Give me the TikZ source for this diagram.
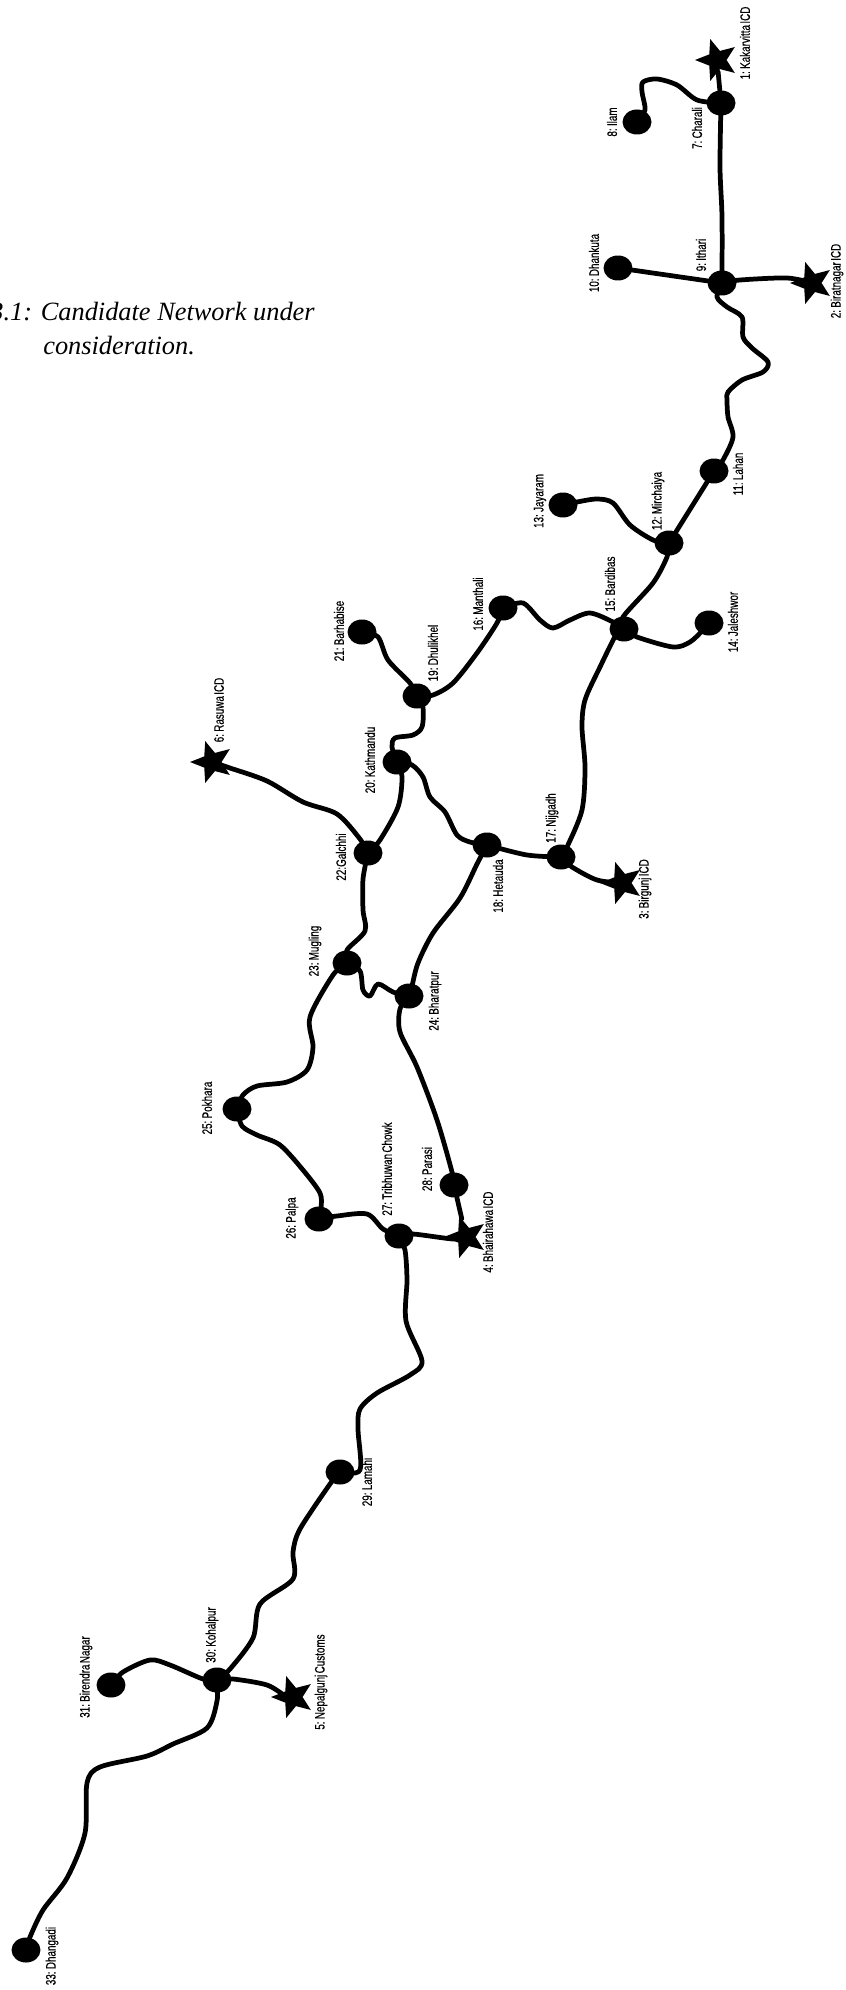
\documentclass[tikz,border=0pt]{standalone}
\usepackage{fontspec}
\usetikzlibrary{shapes.geometric}
\setmainfont{Liberation Serif}
\newfontfamily\stopfont[FakeStretch=0.72,FakeBold=0.4,WordSpace=0.5]{Liberation Sans}

\begin{document}
\begin{tikzpicture}[
    x=0.02cm, y=-0.02cm,
    stopnode/.style={
        ellipse, fill=black, inner sep=0pt, minimum width=0.58cm, minimum height=0.5cm
    },
    icdnode/.style={
        star, star points=5, star point ratio=2.3, shape border rotate=90,
        fill=black, inner sep=0pt, minimum size=0.88cm
    },
    stoplabel/.style={
        rotate=90, font=\stopfont\fontsize{7.8}{9}\selectfont, inner sep=0pt
    },
    captext/.style={
        font=\itshape\fontsize{15}{18}\selectfont, inner sep=0pt
    },
    road/.style={line width=2.7pt, line cap=round, line join=round}
]
\useasboundingbox (0,0) rectangle (845,1990);

% ===== Caption =====
\node[captext, anchor=base east] (capone) at (315,320) {3.1: Candidate Network under};
\node[captext, anchor=base west] (captwo) at (43,355) {consideration.};

% ===== ICD stars =====
\node[icdnode] (kakarvitta) at (717,60) {};
\node[icdnode] (biratnagar) at (812,283) {};
\node[icdnode] (birgunj) at (622,883) {};
\node[icdnode] (bhairahawa) at (466,1237) {};
\node[icdnode] (nepalgunj) at (293,1697) {};
\node[icdnode] (rasuwa) at (212,762) {};

% ===== Stops =====
\node[stopnode] (charali) at (721,103) {};
\node[stopnode] (ilam) at (637,122) {};
\node[stopnode] (ithari) at (722,283) {};
\node[stopnode] (dhankuta) at (618,268) {};
\node[stopnode] (lahan) at (714,471) {};
\node[stopnode] (mirchaiya) at (669,543) {};
\node[stopnode] (jayaram) at (563,505) {};
\node[stopnode] (jaleshwor) at (709,623) {};
\node[stopnode] (bardibas) at (624,629) {};
\node[stopnode] (manthali) at (503,608) {};
\node[stopnode] (nijgadh) at (561,857) {};
\node[stopnode] (hetauda) at (487,845) {};
\node[stopnode] (dhulikhel) at (417,696) {};
\node[stopnode] (kathmandu) at (397,762) {};
\node[stopnode] (barhabise) at (362,632) {};
\node[stopnode] (galchhi) at (368,853) {};
\node[stopnode] (mugling) at (347,963) {};
\node[stopnode] (bharatpur) at (409,996) {};
\node[stopnode] (pokhara) at (237,1109) {};
\node[stopnode] (palpa) at (319,1219) {};
\node[stopnode] (tribhuwan) at (399,1236) {};
\node[stopnode] (parasi) at (454,1185) {};
\node[stopnode] (lamahi) at (340,1472) {};
\node[stopnode] (kohalpur) at (217,1680) {};
\node[stopnode] (birendra) at (111,1685) {};
\node[stopnode] (dhangadi) at (26,1950) {};

% ===== Labels =====
\node[stoplabel] (l1) at (745,43) {1: Kakarvitta ICD};
\node[stoplabel] (l2) at (837,281) {2: Biratnagar ICD};
\node[stoplabel] (l3) at (645,889) {3: Birgunj ICD};
\node[stoplabel] (l4) at (488,1232) {4: Bhairahawa ICD};
\node[stoplabel] (l5) at (321,1682) {5: Nepalgunj Customs};
\node[stoplabel] (l6) at (219,710) {6: Rasuwa ICD};
\node[stoplabel] (l7) at (697,128) {7: Charali};
\node[stoplabel] (l8) at (612,122) {8: Ilam};
\node[stoplabel] (l9) at (701,255) {9: Ithari};
\node[stoplabel] (l10) at (594,263) {10: Dhankuta};
\node[stoplabel] (l11) at (738,474) {11: Lahan};
\node[stoplabel] (l12) at (658,501) {12: Mirchaiya};
\node[stoplabel] (l13) at (540,501) {13: Jayaram};
\node[stoplabel] (l14) at (733,622) {14: Jaleshwor};
\node[stoplabel] (l15) at (610,584) {15: Bardibas};
\node[stoplabel] (l16) at (478,604) {16: Manthali};
\node[stoplabel] (l17) at (552,818) {17: Nijgadh};
\node[stoplabel] (l18) at (498,886) {18: Hetauda};
\node[stoplabel] (l19) at (433,653) {19: Dhulikhel};
\node[stoplabel] (l20) at (370,760) {20: Kathmandu};
\node[stoplabel] (l21) at (339,631) {21: Barhabise};
\node[stoplabel] (l22) at (341,857) {22:Galchhi};
\node[stoplabel] (l23) at (315,951) {23: Mugling};
\node[stoplabel] (l24) at (435,1001) {24: Bharatpur};
\node[stoplabel] (l25) at (207,1108) {25: Pokhara};
\node[stoplabel] (l26) at (292,1218) {26: Palpa};
\node[stoplabel] (l27) at (387,1169) {27: Tribhuwan Chowk};
\node[stoplabel] (l28) at (427,1169) {28: Parasi};
\node[stoplabel] (l29) at (367,1482) {29: Lamahi};
\node[stoplabel] (l30) at (212,1635) {30: Kohalpur};
\node[stoplabel] (l31) at (86,1677) {31: Birendra Nagar};
\node[stoplabel] (l33) at (52,1956) {33: Dhangadi};

% Straight roads
\foreach \i/\j in {charali/kakarvitta, ithari/dhankuta, lahan/mirchaiya, parasi/bhairahawa} {
    \draw[road] (\i) -- (\j);
}

% Winding roads
\draw[road] plot[smooth] coordinates {(ilam) (645,110) (642,92) (643,82) (657,79) (677,85) (697,100) (charali)};
\draw[road] plot[smooth] coordinates {(charali) (720,167) (722,217) (ithari)};
\draw[road] plot[smooth] coordinates {(ithari) (740,280) (787,278) (biratnagar)};
\draw[road] plot[smooth] coordinates {(ithari) (717,297) (727,307) (742,317) (743,337) (752,348) (768,362) (763,372) (742,380) (728,392) (727,400) (728,417) (733,437) (723,460) (lahan)};
\draw[road] plot[smooth] coordinates {(mirchaiya) (653,540) (630,525) (613,503) (597,499) (577,502) (jayaram)};
\draw[road] plot[smooth] coordinates {(mirchaiya) (667,557) (653,583) (623,617) (bardibas)};
\draw[road] plot[smooth] coordinates {(bardibas) (637,637) (673,647) (690,642) (703,630) (jaleshwor)};
\draw[road] plot[smooth] coordinates {(bardibas) (613,622) (590,613) (570,620) (553,628) (540,620) (523,603) (manthali)};
\draw[road] plot[smooth] coordinates {(bardibas) (617,633) (600,667) (585,700) (582,727) (585,767) (582,810) (567,847) (nijgadh)};
\draw[road] plot[smooth] coordinates {(nijgadh) (572,867) (597,880) (birgunj)};
\draw[road] plot[smooth] coordinates {(nijgadh) (527,855) (hetauda)};
\draw[road] plot[smooth] coordinates {(manthali) (497,623) (477,653) (453,683) (433,695) (dhulikhel)};
\draw[road] plot[smooth] coordinates {(dhulikhel) (410,683) (388,660) (378,637) (barhabise)};
\draw[road] plot[smooth] coordinates {(dhulikhel) (423,708) (422,727) (413,735) (395,738) (392,747) (kathmandu)};
\draw[road] plot[smooth] coordinates {(kathmandu) (402,777) (398,807) (380,840) (galchhi)};
\draw[road] plot[smooth] coordinates {(kathmandu) (412,765) (423,777) (430,797) (445,812) (457,835) (470,842) (hetauda)};
\draw[road] plot[smooth] coordinates {(galchhi) (360,839) (337,814) (303,802) (267,781) (230,768) (rasuwa)};
\draw[road] plot[smooth] coordinates {(galchhi) (363,879) (363,910) (365,931) (347,950) (mugling)};
\draw[road] plot[smooth] coordinates {(hetauda) (477,864) (460,898) (433,933) (418,963) (412,986) (bharatpur)};
\draw[road] plot[smooth] coordinates {(mugling) (360,971) (363,990) (370,996) (378,984) (393,992) (bharatpur)};
\draw[road] plot[smooth] coordinates {(mugling) (333,975) (310,1017) (313,1047) (307,1070) (287,1082) (257,1086) (243,1095) (pokhara)};
\draw[road] plot[smooth] coordinates {(pokhara) (242,1126) (257,1135) (280,1145) (303,1170) (320,1193) (321,1208) (palpa)};
\draw[road] plot[smooth] coordinates {(palpa) (337,1216) (367,1214) (383,1229) (tribhuwan)};
\draw[road] plot[smooth] coordinates {(tribhuwan) (413,1234) (453,1239) (bhairahawa)};
\draw[road] plot[smooth] coordinates {(bharatpur) (400,1009) (400,1032) (417,1067) (437,1120) (452,1172) (parasi)};
\draw[road] plot[smooth] coordinates {(tribhuwan) (405,1250) (407,1280) (406,1321) (422,1361) (410,1375) (377,1393) (360,1409) (358,1429) (360,1470) (lamahi)};
\draw[road] plot[smooth] coordinates {(lamahi) (330,1484) (300,1529) (293,1552) (293,1579) (260,1604) (253,1638) (230,1669) (kohalpur)};
\draw[road] plot[smooth] coordinates {(kohalpur) (203,1679) (170,1665) (150,1660) (123,1672) (birendra)};
\draw[road] plot[smooth] coordinates {(kohalpur) (233,1679) (267,1685) (287,1697) (nepalgunj)};
\draw[road] plot[smooth] coordinates {(kohalpur) (217,1701) (207,1728) (173,1744) (147,1756) (100,1767) (87,1783) (85,1833) (67,1878) (43,1910) (30,1937) (dhangadi)};

\end{tikzpicture}
\end{document}
